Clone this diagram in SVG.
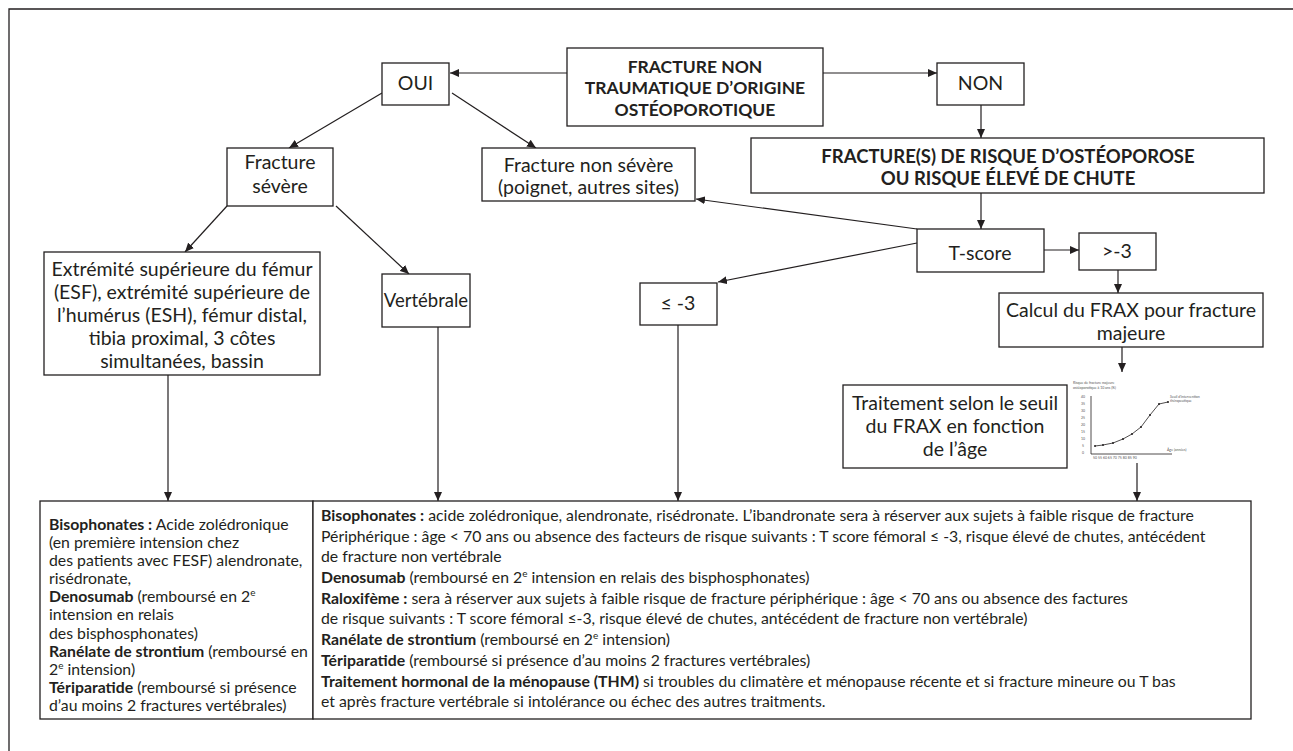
<svg xmlns="http://www.w3.org/2000/svg" width="1293" height="751" viewBox="0 0 1293 751">
<defs>
<marker id="ah" markerUnits="userSpaceOnUse" markerWidth="9" markerHeight="8" refX="9" refY="4" orient="auto">
<path d="M0,0 L9,4 L0,8 z" fill="#231f20"/>
</marker>
<style>
.box{fill:#fff;stroke:#231f20;stroke-width:1.3}
.t{font-family:Lato,"Open Sans","Liberation Sans",sans-serif;font-size:19.5px;fill:#231f20;text-anchor:middle}
.tb{font-family:Lato,"Open Sans","Liberation Sans",sans-serif;font-size:17.5px;font-weight:bold;fill:#231f20;text-anchor:middle}
.s{font-family:Lato,"Open Sans","Liberation Sans",sans-serif;font-size:15.8px;fill:#231f20}
.b{font-weight:bold}
.e{stroke:#231f20;stroke-width:1.2;fill:none;marker-end:url(#ah)}
.ax{stroke:#231f20;stroke-width:0.8;fill:none}
.tiny{font-family:Lato,"Liberation Sans",sans-serif;font-size:3.5px;fill:#555}
</style>
</defs>
<rect width="1293" height="751" fill="#fff"/>
<path d="M9,751 L9,9 L1293,9" fill="none" stroke="#231f20" stroke-width="1.3"/>

<g id="connectors">
<path class="e" d="M567,73 L450,73"/>
<path class="e" d="M823,73 L937,73"/>
<path class="e" d="M382,93 L289,148"/>
<path class="e" d="M452,93 L536,148"/>
<path class="e" d="M981,105 L981,138"/>
<path class="e" d="M227,206 L185,252"/>
<path class="e" d="M336,206 L409,274"/>
<path class="e" d="M981,193 L981,229"/>
<path class="e" d="M917,229 L696,199"/>
<path class="e" d="M917,243 L718,282"/>
<path class="e" d="M1044,250 L1079,250"/>
<path class="e" d="M1118,270 L1118,293"/>
<path class="e" d="M1122,347 L1122,372"/>
<path class="e" d="M168,375 L168,501"/>
<path class="e" d="M438,327 L438,501"/>
<path class="e" d="M678,325 L678,501"/>
<path class="e" d="M1137,463 L1137,501"/>
</g>

<g id="n-top">
<rect class="box" x="567" y="48" width="256" height="78"/>
<text class="tb" x="695" y="73">FRACTURE NON</text>
<text class="tb" x="695" y="94">TRAUMATIQUE D’ORIGINE</text>
<text class="tb" x="695" y="116">OSTÉOPOROTIQUE</text>
</g>
<g id="n-oui">
<rect class="box" x="382" y="63" width="67" height="42"/>
<text class="t" x="415.5" y="90">OUI</text>
</g>
<g id="n-non">
<rect class="box" x="937" y="63" width="87" height="42"/>
<text class="t" x="980.5" y="90">NON</text>
</g>
<g id="n-risque">
<rect class="box" x="751" y="138" width="513" height="55"/>
<text class="tb" x="1008" y="163" style="font-size:18.5px">FRACTURE(S) DE RISQUE D’OSTÉOPOROSE</text>
<text class="tb" x="1008" y="185" style="font-size:18.5px">OU RISQUE ÉLEVÉ DE CHUTE</text>
</g>
<g id="n-severe">
<rect class="box" x="227" y="148" width="106" height="58"/>
<text class="t" x="280" y="169">Fracture</text>
<text class="t" x="280" y="193">sévère</text>
</g>
<g id="n-nonsevere">
<rect class="box" x="482" y="148" width="213" height="53"/>
<text class="t" x="588.5" y="172">Fracture non sévère</text>
<text class="t" x="588.5" y="194">(poignet, autres sites)</text>
</g>
<g id="n-esf">
<rect class="box" x="44" y="252" width="276" height="123"/>
<text class="t" x="182" y="276">Extrémité supérieure du fémur</text>
<text class="t" x="182" y="299">(ESF), extrémité supérieure de</text>
<text class="t" x="182" y="322">l’humérus (ESH), fémur distal,</text>
<text class="t" x="182" y="345">tibia proximal, 3 côtes</text>
<text class="t" x="182" y="368">simultanées, bassin</text>
</g>
<g id="n-vert">
<rect class="box" x="382" y="274" width="88" height="53"/>
<text class="t" x="426" y="307" style="font-size:18.5px">Vertébrale</text>
</g>
<g id="n-le3">
<rect class="box" x="640" y="283" width="77" height="42"/>
<text class="t" x="678" y="310">≤ -3</text>
</g>
<g id="n-tscore">
<rect class="box" x="917" y="229" width="127" height="43"/>
<text class="t" x="980" y="260">T-score</text>
</g>
<g id="n-gt3">
<rect class="box" x="1079" y="233" width="77" height="37"/>
<text class="t" x="1117" y="258">&gt;-3</text>
</g>
<g id="n-calcul">
<rect class="box" x="999" y="293" width="264" height="54"/>
<text class="t" x="1131" y="317">Calcul du FRAX pour fracture</text>
<text class="t" x="1131" y="340">majeure</text>
</g>
<g id="n-traitement">
<rect class="box" x="843" y="385" width="224" height="83"/>
<text class="t" x="955" y="410">Traitement selon le seuil</text>
<text class="t" x="955" y="433">du FRAX en fonction</text>
<text class="t" x="955" y="456">de l’âge</text>
</g>
<g id="n-chart">
<text class="tiny" x="1073" y="384">Risque de fracture majeure</text>
<text class="tiny" x="1073" y="389">ostéoporotique à 10 ans (%)</text>
<path class="ax" d="M1091,396 L1091,454 L1172,454"/>
<text class="tiny" x="1081" y="398">40</text>
<text class="tiny" x="1081" y="405">35</text>
<text class="tiny" x="1081" y="412">30</text>
<text class="tiny" x="1081" y="419">25</text>
<text class="tiny" x="1081" y="426">20</text>
<text class="tiny" x="1081" y="433">15</text>
<text class="tiny" x="1081" y="440">10</text>
<text class="tiny" x="1082" y="447">5</text>
<text class="tiny" x="1082" y="454">0</text>
<path class="ax" stroke-width="1" d="M1095,446 L1103,445 L1113,443 L1123,439 L1132,434 L1141,427 L1150,415 L1159,404 L1168,402"/>
<g fill="#231f20"><circle cx="1095" cy="446" r="1"/><circle cx="1103" cy="445" r="1"/><circle cx="1113" cy="443" r="1"/><circle cx="1123" cy="439" r="1"/><circle cx="1132" cy="434" r="1"/><circle cx="1141" cy="427" r="1"/><circle cx="1150" cy="415" r="1"/><circle cx="1159" cy="404" r="1"/><circle cx="1168" cy="402" r="1"/></g>
<text class="tiny" x="1170" y="398">Seuil d’intervention</text>
<text class="tiny" x="1170" y="402">thérapeutique</text>
<text class="tiny" x="1167" y="451">Âge (années)</text>
<text class="tiny" x="1093" y="459">50  55  60  65  70  75  80  85  90</text>
</g>

<g id="n-left-bottom">
<rect class="box" x="40" y="501" width="273" height="218"/>
<text class="s" x="49" y="530"><tspan class="b">Bisophonates :</tspan> Acide zolédronique</text>
<text class="s" x="49" y="548">(en première intension chez</text>
<text class="s" x="49" y="566">des patients avec FESF) alendronate,</text>
<text class="s" x="49" y="584">risédronate,</text>
<text class="s" x="49" y="602"><tspan class="b">Denosumab</tspan> (remboursé en 2<tspan font-size="10" dy="-6">e</tspan></text>
<text class="s" x="49" y="620">intension en relais</text>
<text class="s" x="49" y="639">des bisphosphonates)</text>
<text class="s" x="49" y="657"><tspan class="b">Ranélate de strontium</tspan> (remboursé en</text>
<text class="s" x="49" y="675">2<tspan font-size="10" dy="-6">e</tspan><tspan dy="6"> intension)</tspan></text>
<text class="s" x="49" y="693"><tspan class="b">Tériparatide</tspan> (remboursé si présence</text>
<text class="s" x="49" y="711">d’au moins 2 fractures vertébrales)</text>
</g>
<g id="n-right-bottom">
<rect class="box" x="313" y="501" width="938" height="218"/>
<text class="s" x="321" y="521"><tspan class="b">Bisophonates :</tspan> acide zolédronique, alendronate, risédronate. L’ibandronate sera à réserver aux sujets à faible risque de fracture</text>
<text class="s" x="321" y="542">Périphérique : âge &lt; 70 ans ou absence des facteurs de risque suivants : T score fémoral ≤ -3, risque élevé de chutes, antécédent</text>
<text class="s" x="321" y="562">de fracture non vertébrale</text>
<text class="s" x="321" y="583"><tspan class="b">Denosumab</tspan> (remboursé en 2<tspan font-size="10" dy="-6">e</tspan><tspan dy="6"> intension en relais des bisphosphonates)</tspan></text>
<text class="s" x="321" y="604"><tspan class="b">Raloxifème :</tspan> sera à réserver aux sujets à faible risque de fracture périphérique : âge &lt; 70 ans ou absence des factures</text>
<text class="s" x="321" y="624">de risque suivants : T score fémoral ≤-3, risque élevé de chutes, antécédent de fracture non vertébrale)</text>
<text class="s" x="321" y="645"><tspan class="b">Ranélate de strontium</tspan> (remboursé en 2<tspan font-size="10" dy="-6">e</tspan><tspan dy="6"> intension)</tspan></text>
<text class="s" x="321" y="666"><tspan class="b">Tériparatide</tspan> (remboursé si présence d’au moins 2 fractures vertébrales)</text>
<text class="s" x="321" y="687"><tspan class="b">Traitement hormonal de la ménopause (THM)</tspan> si troubles du climatère et ménopause récente et si fracture mineure ou T bas</text>
<text class="s" x="321" y="707">et après fracture vertébrale si intolérance ou échec des autres traitments.</text>
</g>
</svg>
